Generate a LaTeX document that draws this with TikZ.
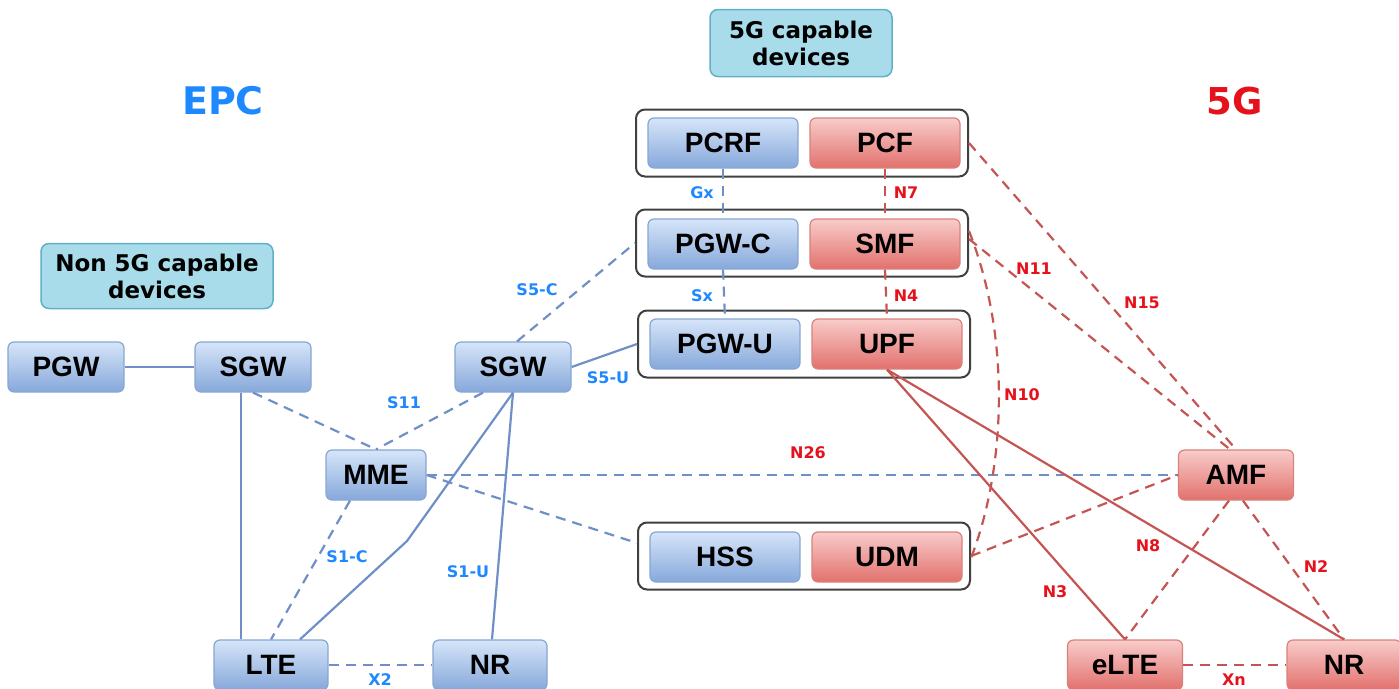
\documentclass[tikz,border=0pt]{standalone}
\usepackage{fontspec}
\setmainfont{Liberation Sans}
\newfontfamily\verafont{DejaVu Sans}
\definecolor{epctop}{HTML}{D6E5F9}
\definecolor{epcbot}{HTML}{86A8DA}
\definecolor{epcedge}{HTML}{87A6D4}
\definecolor{ngtop}{HTML}{F8CCCA}
\definecolor{ngbot}{HTML}{E2716D}
\definecolor{ngedge}{HTML}{D8827E}
\definecolor{devfill}{HTML}{A9DCEB}
\definecolor{devedge}{HTML}{62AFC8}
\definecolor{epcline}{HTML}{6F90C7}
\definecolor{ngline}{HTML}{C45553}
\definecolor{labblue}{HTML}{1E88FF}
\definecolor{labred}{HTML}{E5121C}
\begin{document}
\begin{tikzpicture}[x=1pt,y=-1pt,
  epc/.style={draw=epcedge, line width=1.2pt, rounded corners=6pt,
    top color=epctop, bottom color=epcbot, minimum height=50pt,
    font=\fontsize{28}{30}\selectfont\bfseries},
  ngc/.style={epc, draw=ngedge, top color=ngtop, bottom color=ngbot},
  grp/.style={draw=black!75, line width=2pt, rounded corners=9pt, fill=white,
    minimum width=332pt, minimum height=67pt},
  devbox/.style={draw=devedge, line width=1.5pt, rounded corners=8pt, fill=devfill,
    align=center, font=\verafont\bfseries\fontsize{23}{27}\selectfont},
  bl/.style={epcline, line width=2.2pt},
  bld/.style={bl, dash pattern=on 10pt off 7pt},
  rl/.style={ngline, line width=2.2pt},
  rld/.style={rl, dash pattern=on 10pt off 7pt},
  blab/.style={text=labblue, font=\verafont\bfseries\fontsize{16}{18}\selectfont},
  rlab/.style={text=labred, font=\verafont\bfseries\fontsize{16}{18}\selectfont}
]
  \useasboundingbox (0,0) rectangle (1399,688);

  % titles and device boxes
  \node (epctitle) at (223,101) [text=labblue, font=\verafont\bfseries\fontsize{38}{40}\selectfont] {EPC};
  \node (ngtitle) at (1235,101) [text=labred, font=\verafont\bfseries\fontsize{37}{40}\selectfont] {5G};
  \node (nondev) at (157,276) [devbox, minimum width=232pt, minimum height=65pt] {Non 5G capable\\devices};
  \node (dev) at (801,43) [devbox, minimum width=182pt, minimum height=67pt] {5G capable\\devices};

  % grouped functions
  \node (g1) at (802,143) [grp] {};
  \node (g2) at (802,243) [grp] {};
  \node (g3) at (804,344) [grp] {};
  \node (g4) at (804,556) [grp] {};
  \node (pcrf) at (723,143) [epc, minimum width=150pt] {PCRF};
  \node (pcf)  at (885,143) [ngc, minimum width=150pt] {PCF};
  \node (pgwc) at (723,244) [epc, minimum width=150pt] {PGW-C};
  \node (smf)  at (885,244) [ngc, minimum width=150pt] {SMF};
  \node (pgwu) at (725,344) [epc, minimum width=150pt] {PGW-U};
  \node (upf)  at (887,344) [ngc, minimum width=150pt] {UPF};
  \node (hss)  at (725,557) [epc, minimum width=150pt] {HSS};
  \node (udm)  at (887,557) [ngc, minimum width=150pt] {UDM};

  % EPC side
  \node (pgw)  at (66,367)  [epc, minimum width=116pt] {PGW};
  \node (sgwl) at (253,367) [epc, minimum width=116pt] {SGW};
  \node (sgwm) at (513,367) [epc, minimum width=116pt] {SGW};
  \node (mme)  at (376,475) [epc, minimum width=100pt] {MME};
  \node (lte)  at (271,665) [epc, minimum width=114pt] {LTE};
  \node (nrb)  at (490,665) [epc, minimum width=114pt] {NR};

  % 5G side
  \node (amf)  at (1236,475) [ngc, minimum width=115pt] {AMF};
  \node (elte) at (1125,665) [ngc, minimum width=115pt] {eLTE};
  \node (nrr)  at (1344,665) [ngc, minimum width=114pt] {NR};

  % EPC links
  \draw[bl] (pgw) -- (sgwl);
  \draw[bl] ([xshift=-12pt]sgwl.south) -- ([xshift=-30pt]lte.north);
  \draw[bld] (sgwl.south) -- (mme.north);
  \draw[bld] ([xshift=-30pt]sgwm.south) -- (mme.north);
  \coordinate (bend) at (407,541);
  \draw[bl] (sgwm.south) -- (bend) -- ([xshift=29pt]lte.north);
  \draw[bl] (sgwm.south) -- ([xshift=2pt]nrb.north);
  \draw[bl] (sgwm.east) -- (g3.west);
  \draw[bld] ([xshift=4pt]sgwm.north) -- (g2.west);
  \draw[bld] (mme.east) -- (amf.west);
  \draw[bld] (mme.east) -- ([yshift=13pt]g4.west);
  \draw[bld] ([xshift=-26pt]mme.south) -- (lte.north);
  \draw[bld] (lte.east) -- (nrb.west);
  \draw[bld] (pcrf.south) -- (pgwc.north);
  \draw[bld] (pgwc.south) -- (pgwu.north);

  % 5G links
  \draw[rld] (pcf.south) -- (smf.north);
  \draw[rld] (smf.south) -- (upf.north);
  \draw[rld] (g1.east) -- (amf.north);
  \draw[rld] ([yshift=4pt]g2.east) -- ([xshift=-6pt]amf.north);
  \draw[rld] ([yshift=12pt]g2.east) .. controls (1012,340) and (1005,470) .. ([yshift=-2pt]g4.east);
  \draw[rld] (g4.east) -- (amf.west);
  \draw[rld] ([xshift=-7pt]amf.south) -- (elte.north);
  \draw[rld] ([xshift=7pt]amf.south) -- (nrr.north);
  \draw[rl] (upf.south) -- (elte.north);
  \draw[rl] (upf.south) -- (nrr.north);
  \draw[rld] (elte.east) -- (nrr.west);

  % interface labels
  \node (ls5c) at (537,290) [blab] {S5-C};
  \node (ls5u) at (608,378) [blab] {S5-U};
  \node (ls11) at (404,403) [blab] {S11};
  \node (ls1c) at (347,557) [blab] {S1-C};
  \node (ls1u) at (468,572) [blab] {S1-U};
  \node (lx2)  at (380,680) [blab] {X2};
  \node (lgx)  at (702,193) [blab] {Gx};
  \node (lsx)  at (702,296) [blab] {Sx};
  \node (ln7)  at (906,193) [rlab] {N7};
  \node (ln4)  at (906,296) [rlab] {N4};
  \node (ln11) at (1034,269) [rlab] {N11};
  \node (ln15) at (1142,303) [rlab] {N15};
  \node (ln10) at (1022,395) [rlab] {N10};
  \node (ln26) at (808,453) [rlab] {N26};
  \node (ln8)  at (1148,546) [rlab] {N8};
  \node (ln3)  at (1055,592) [rlab] {N3};
  \node (ln2)  at (1316,567) [rlab] {N2};
  \node (lxn)  at (1234,680) [rlab] {Xn};
\end{tikzpicture}
\end{document}
